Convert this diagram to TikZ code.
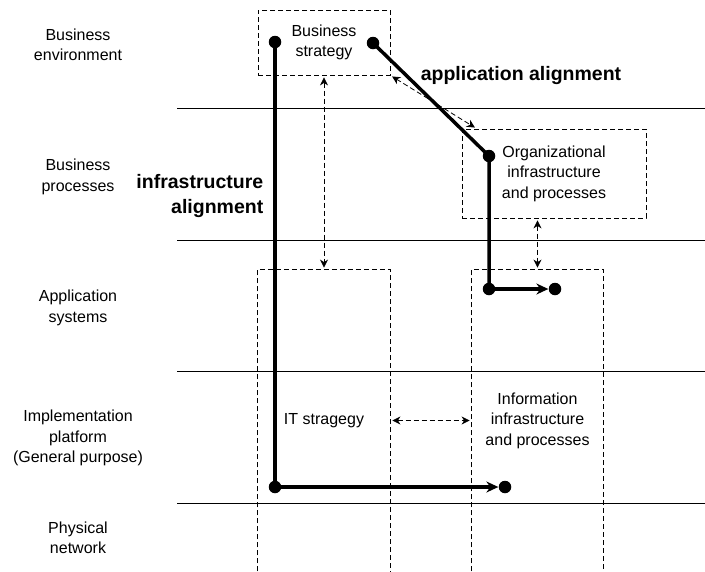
\documentclass[tikz,border=0pt]{standalone}
\usepackage{fontspec}
\setmainfont{Liberation Sans}
\usetikzlibrary{arrows.meta}
\begin{document}
\begin{tikzpicture}[x=1pt,y=-1pt,line width=0.8pt,
  font=\fontsize{16}{20.5}\selectfont,
  dot/.style={circle,fill,inner sep=0pt,minimum size=12.5pt},
  alignline/.style={line width=3.5pt},
  dashbox/.style={draw,dash pattern=on 5pt off 3pt,inner sep=0pt,align=center},
  link/.style={dash pattern=on 5pt off 3pt,
    {Stealth[length=8pt,width=8pt,inset=2.5pt]}-{Stealth[length=8pt,width=8pt,inset=2.5pt]},
    shorten <=2pt,shorten >=2pt},
  layer/.style={align=center},
  big/.style={font=\fontsize{19.5}{24.5}\selectfont\bfseries}]
\useasboundingbox (0,0) rectangle (705,571);
% layers
\foreach \y in {108,240,371,503} \draw (177,\y) -- (705,\y);
\node[layer] (env) at (78,45) {Business\\environment};
\node[layer] (proc) at (78,177) {Business\\processes};
\node[layer] (appsys) at (78,308) {Application\\systems};
\node[layer] (impl) at (78,438) {Implementation\\platform\\(General purpose)};
\node[layer] (phys) at (78,538) {Physical\\network};
% domains
\node[dashbox,minimum width=132pt,minimum height=65pt] (strat) at (324,42.5) {Business\\strategy};
\node[dashbox,minimum width=184pt,minimum height=89pt] (org) at (554,173.5) {Organizational\\infrastructure\\and processes};
\node[minimum width=132pt,minimum height=301pt,inner sep=0pt] (itcol) at (324,420.5) {IT stragegy};
\node[minimum width=131pt,minimum height=301pt,inner sep=0pt,align=center] (infocol) at (537.5,420.5) {Information\\infrastructure\\and processes};
\draw[dash pattern=on 5pt off 3pt] (itcol.south west) |- (itcol.north east) -- (itcol.south east);
\draw[dash pattern=on 5pt off 3pt] (infocol.south west) |- (infocol.north east) -- (infocol.south east);
% links between domains
\draw[link] (strat.south) -- (itcol.north);
\draw[link] (strat.south east) -- ([xshift=15pt]org.north west);
\draw[link] (org.south -| infocol.north) -- (infocol.north);
\draw[link] (itcol.east) -- (infocol.west);
% infrastructure alignment
\node[dot] (s1) at (275,42) {};
\node[dot] (s2) at (275,487) {};
\node[dot] (s3) at (505,487) {};
\draw[alignline] (s1.center) -- (s2.center);
\draw[alignline,-{Stealth[length=12pt,width=11pt,inset=4pt]}] (s2.center) -- (s3);
\node[big,align=right,anchor=east] (infra) at (267,196) {infrastructure\\alignment};
% application alignment
\node[dot] (a1) at (373,43) {};
\node[dot] (a2) at (489,156) {};
\node[dot] (a3) at (489,289) {};
\node[dot] (a4) at (555,289) {};
\draw[alignline] (a1.center) -- (a2.center) -- (a3.center);
\draw[alignline,-{Stealth[length=12pt,width=11pt,inset=4pt]}] (a3.center) -- (a4);
\node[big] (appl) at (521,75) {application alignment};
\end{tikzpicture}
\end{document}
